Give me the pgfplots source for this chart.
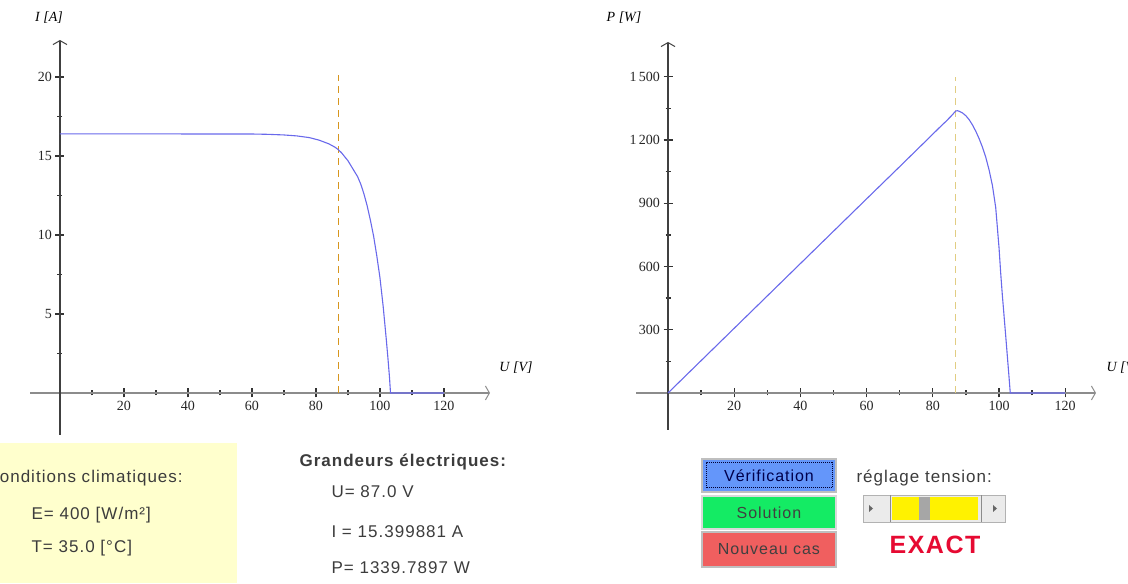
\documentclass[border=0pt]{standalone}
\usepackage{fontspec}
\setmainfont{Liberation Serif}
\newfontfamily\uisans[LetterSpace=6]{Liberation Sans}
\usepackage{pgfplots}
\pgfplotsset{compat=1.18}
\usetikzlibrary{arrows.meta}

\definecolor{curveblue}{RGB}{105,105,235}
\definecolor{mppdark}{RGB}{215,150,30}
\definecolor{mpplight}{RGB}{225,205,130}
\definecolor{panelyellow}{RGB}{255,255,205}
\definecolor{btnblue}{RGB}{100,150,250}
\definecolor{btngreen}{RGB}{20,235,100}
\definecolor{btnred}{RGB}{240,95,95}
\definecolor{exactred}{RGB}{230,10,50}
\definecolor{uitext}{RGB}{60,60,60}

\pgfplotsset{
  pvaxis/.style={
    scale only axis,
    axis lines=middle,
    x axis line style={draw=black!45, line width=1.3pt,
      -{Straight Barb[length=4pt,width=14pt,line width=1pt]}},
    y axis line style={draw=black!75, line width=1.3pt,
      -{Straight Barb[length=4pt,width=14pt,line width=1pt]}},
    tick align=center,
    tick style={draw=black!80, line width=1.3pt},
    major tick length=9pt, minor tick length=5pt,
    xtick={20,40,...,120}, minor xtick={10,30,...,110},
    tick label style={font=\fontsize{14}{14}\selectfont, text=black!85},
    /pgf/number format/assume math mode=true,
  },
  ivcurve/.style={draw=curveblue, line width=1.1pt},
}

\pgfplotstableread{
U I
0 16.40
60 16.39
65 16.37
70 16.33
74 16.27
78 16.16
81 16.00
84 15.77
86 15.55
87 15.40
88 15.20
90 14.70
92 14.03
93 13.70
94 13.22
95 12.60
96 11.85
97 10.95
98 9.95
99 8.70
100 7.30
101 5.50
102 3.35
102.5 2.20
103 0.95
103.3 0
120 0
}\currentdata

\pgfplotstableread{
U P
0 0
20 307
40 614
60 921
70 1074
75 1151
78 1197
80 1228
82 1259
84 1289
85 1305
86 1321
86.5 1331
87 1338
87.5 1339
88 1336
89 1328
90 1315
91 1296
92 1271
93 1241
94 1206
95 1166
96 1118
97 1058
98 985
99 880
100 690
100.5 570
101 465
102 275
103 80
103.4 0
120 0
}\powerdata

\begin{document}
\begin{tikzpicture}[x=1pt,y=1pt]
\useasboundingbox (0,0) rectangle (1128,584);

% I(U)
\begin{axis}[pvaxis,
  at={(30pt,149pt)}, anchor=south west,
  width=460pt, height=395pt,
  xmin=-9.375, xmax=134.4, ymin=-2.66, ymax=22.34,
  ytick={5,10,15,20}, minor ytick={2.5,7.5,12.5,17.5},
]
\addplot[draw=mppdark, line width=1.2pt, dash pattern=on 7pt off 5pt]
  coordinates {(87,0) (87,20.1)};
\addplot[ivcurve] table[x=U,y=I] {\currentdata};
\end{axis}

% P(U)
\begin{axis}[pvaxis,
  at={(636pt,154pt)}, anchor=south west,
  width=460pt, height=388pt,
  xmin=-9.67, xmax=129.3, ymin=-175.6, ymax=1665,
  ytick={300,600,900,1200,1500},
  yticklabels={300,600,900,1\,200,1\,500},
  minor ytick={150,450,750,1050,1350},
]
\addplot[draw=mpplight, line width=1pt, dash pattern=on 7pt off 5pt]
  coordinates {(87,0) (87,1500)};
\addplot[ivcurve] table[x=U,y=P] {\powerdata};
\end{axis}

% axis names
\node[font=\fontsize{14}{14}\selectfont\itshape] at (49,566) {I [A]};
\node[font=\fontsize{14}{14}\selectfont\itshape] at (516,216) {U [V]};
\node[font=\fontsize{14}{14}\selectfont\itshape] at (624,566) {P [W]};
\node[font=\fontsize{14}{14}\selectfont\itshape, anchor=west] at (1103,216) {U [V]};

% climate panel
\fill[panelyellow] (0,1) rectangle (237,141);
\begin{scope}[every node/.style={font=\uisans\fontsize{17}{17}\selectfont, text=uitext}]
\node[anchor=west] at (-17,106) {Conditions climatiques:};
\node[anchor=west] at (28,69) {E= 400 [W/m²]};
\node[anchor=west] at (28,36) {T= 35.0 [°C]};

% electrical values
\node[anchor=west, font=\uisans\bfseries\fontsize{17}{17}\selectfont] at (296,122) {Grandeurs électriques:};
\node[anchor=west] at (328,92) {U= 87.0 V};
\node[anchor=west] at (328,52) {I = 15.399881 A};
\node[anchor=west] at (328,16) {P= 1339.7897 W};

% buttons
\fill[black!25] (701,91) rectangle (837,126);
\fill[btnblue] (703,93) rectangle (835,124);
\draw[black!80!blue, densely dotted, line width=1pt] (706,96) rectangle (832,121);
\node[font=\uisans\fontsize{16}{16}\selectfont, text=black!70!blue] at (769,108.5) {Vérification};
\fill[black!15] (701,54) rectangle (837,89);
\fill[btngreen] (703,56) rectangle (835,87);
\node[font=\uisans\fontsize{16}{16}\selectfont, text=black!75] at (769,71.5) {Solution};
\fill[black!25] (701,16) rectangle (837,53);
\fill[btnred] (703,18) rectangle (835,51);
\node[font=\uisans\fontsize{16}{16}\selectfont, text=black!75] at (769,34.5) {Nouveau cas};

% slider
\node[anchor=west] at (853,106) {réglage tension:};
\fill[black!8] (863,62) rectangle (1005,89);
\draw[black!30] (863,62) rectangle (1005,89);
\fill[black!60] (873,75.5) -- (869,72) -- (869,79) -- cycle;
\fill[black!60] (997,75.5) -- (993,72) -- (993,79) -- cycle;
\draw[black!45, line width=1pt] (890,62) -- (890,89);
\draw[black!45, line width=1pt] (981,62) -- (981,89);
\fill[yellow] (892,64) rectangle (919,87);
\fill[black!35] (919,64) rectangle (930,87);
\fill[yellow] (930,64) rectangle (978,87);
\end{scope}
\node[font=\uisans\bfseries\fontsize{25}{25}\selectfont, text=exactred] at (935,39) {EXACT};
\end{tikzpicture}
\end{document}
